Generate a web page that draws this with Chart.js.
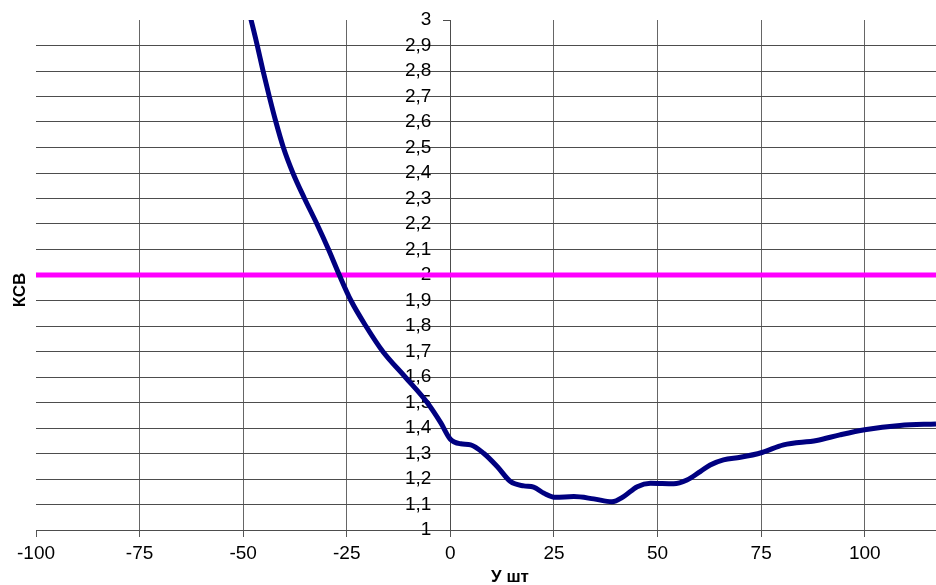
<!DOCTYPE html>
<html lang="ru">
<head>
<meta charset="utf-8">
<title>КСВ</title>
<script src="https://cdn.jsdelivr.net/npm/chart.js@4/dist/chart.umd.min.js"></script>
<style>
    html, body { margin: 0; padding: 0; background: #fff; }
    #wrap { width: 936px; height: 585px; position: relative; }
</style>
</head>
<body>
<div id="wrap"><canvas id="vswrChart"></canvas></div>
<script>
// --- Данные ---
const shiftX = [-48.6, -48.1, -46.6, -45.2, -43.7, -42.1, -40.3, -38.0, -35.2, -32.2, -29.4, -26.8, -24, -20.4, -16.3,
    -10.9, -5.6, -2.3, 0, 2.5, 4.9, 8.1, 11.3, 14.5, 17.7, 20.1, 22.6, 25.4, 29.8, 34.6, 39, 41.8, 45.1,
    48.3, 53.9, 57.1, 60.3, 62.7, 65.9, 70, 75.2, 80.4, 88.4, 94, 100, 108.5, 117.2];
const vswr = [3.03, 3.0, 2.9, 2.8, 2.7, 2.6, 2.5, 2.4, 2.3, 2.2, 2.1, 2.0, 1.9, 1.8, 1.7,
    1.6, 1.5, 1.42, 1.356, 1.338, 1.334, 1.30, 1.249, 1.19, 1.173, 1.168, 1.144, 1.128, 1.131, 1.122, 1.111, 1.131, 1.17,
    1.183, 1.181, 1.196, 1.229, 1.255, 1.275, 1.285, 1.304, 1.334, 1.351, 1.373, 1.393, 1.41, 1.416];

// граница КСВ = 2
const limitX = [-100, 117.2];
const limitY = [2, 2];

const xTicks = [-100, -75, -50, -25, 0, 25, 50, 75, 100];
const yTicks = [1, 1.1, 1.2, 1.3, 1.4, 1.5, 1.6, 1.7, 1.8, 1.9, 2, 2.1, 2.2, 2.3, 2.4, 2.5, 2.6, 2.7, 2.8, 2.9, 3];
const yTickLabels = ['1', '1,1', '1,2', '1,3', '1,4', '1,5', '1,6', '1,7', '1,8', '1,9', '2',
    '2,1', '2,2', '2,3', '2,4', '2,5', '2,6', '2,7', '2,8', '2,9', '3'];

const xTitle = 'У шт';
const yTitle = 'КСВ';

const FONT = "'Liberation Sans', Arial, sans-serif";
const gridColor = '#4d4d4d';
const xMin = -100, xMax = 117.2;
// подписи оси Y стоят на 19px левее самой оси (в единицах X)
const labelShift = 19 * (xMax - xMin) / 900;

// подписи осей рисуем сами (в оригинале они не по центру)
const axisTitles = {
    id: 'axisTitles',
    afterDraw(chart) {
        const c = chart.ctx;
        c.save();
        c.fillStyle = '#000';
        c.font = 'bold 17px ' + FONT;
        c.textAlign = 'center';
        c.textBaseline = 'middle';
        c.fillText(xTitle, 510, 577);
        c.translate(20, 290);
        c.rotate(-Math.PI / 2);
        c.fillText(yTitle, 0, 0);
        c.restore();
    }
};

const ctx = document.getElementById('vswrChart').getContext('2d');
new Chart(ctx, {
    type: 'line',
    data: {
        datasets: [
            {
                label: 'КСВ',
                data: shiftX.map((x, i) => ({ x: x, y: vswr[i] })),
                borderColor: '#000080',
                borderWidth: 5,
                pointRadius: 0,
                cubicInterpolationMode: 'monotone',
                fill: false,
                clip: 0
            },
            {
                label: 'КСВ = 2',
                data: limitX.map((x, i) => ({ x: x, y: limitY[i] })),
                borderColor: '#ff00ff',
                borderWidth: 5,
                pointRadius: 0,
                fill: false
            }
        ]
    },
    options: {
        responsive: true,
        maintainAspectRatio: false,
        animation: false,
        layout: { padding: { left: 36, top: 20, right: 0, bottom: 0 } },
        plugins: {
            legend: { display: false },
            tooltip: { enabled: false }
        },
        scales: {
            x: {
                type: 'linear',
                min: xMin,
                max: xMax,
                afterBuildTicks: s => { s.ticks = xTicks.map(v => ({ value: v })); },
                afterFit: s => { s.height = 55; },
                grid: {
                    color: c => (c.tick && c.tick.value === -100) ? 'rgba(0,0,0,0)' : '#666',
                    tickColor: '#555',
                    tickLength: 7
                },
                border: { display: true, color: gridColor },
                ticks: { color: '#000', font: { family: FONT, size: 19 }, padding: 5, maxRotation: 0, autoSkip: false }
            },
            y: {
                type: 'linear',
                position: { x: 0 },
                min: 1,
                max: 3,
                afterBuildTicks: s => { s.ticks = yTicks.map(v => ({ value: v })); },
                grid: {
                    color: c => (c.tick && c.tick.value === 3) ? 'rgba(0,0,0,0)' : gridColor,
                    tickColor: gridColor,
                    tickLength: 7
                },
                border: { display: true, color: gridColor },
                ticks: { display: false, autoSkip: false }
            },
            yLabels: {
                type: 'linear',
                position: { x: -labelShift },
                min: 1,
                max: 3,
                z: 2,
                afterBuildTicks: s => { s.ticks = yTicks.map(v => ({ value: v })); },
                grid: { display: false, drawTicks: false },
                border: { display: false },
                ticks: {
                    color: '#000',
                    font: { family: FONT, size: 19 },
                    padding: 0,
                    autoSkip: false,
                    callback: (v, i) => yTickLabels[i]
                }
            }
        }
    },
    plugins: [axisTitles]
});
</script>
</body>
</html>
